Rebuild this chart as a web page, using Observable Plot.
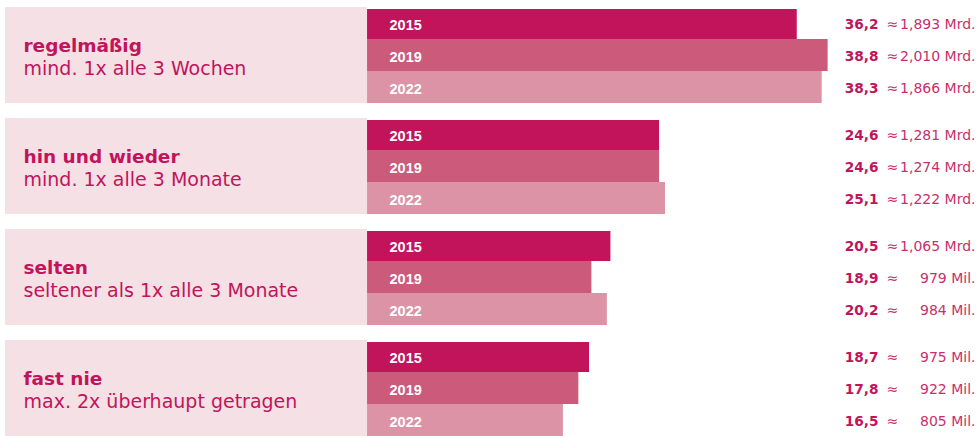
<!DOCTYPE html>
<html>
<head>
<meta charset="utf-8">
<script src="https://cdn.jsdelivr.net/npm/d3@7"></script>
<script src="https://cdn.jsdelivr.net/npm/@observablehq/plot@0.6"></script>
<style>
  html, body { margin: 0; padding: 0; background: #ffffff; }
  #chart svg { display: block; }
</style>
</head>
<body>
<div id="chart"></div>
<script>
const categories = ["regelmäßig", "hin und wieder", "selten", "fast nie"];
const subtitles = ["mind. 1x alle 3 Wochen", "mind. 1x alle 3 Monate", "seltener als 1x alle 3 Monate", "max. 2x überhaupt getragen"];
const years = ["2015", "2019", "2022"];
const values = [
  [36.2, 38.8, 38.3],
  [24.6, 24.6, 25.1],
  [20.5, 18.9, 20.2],
  [18.7, 17.8, 16.5]
];
const amounts = [
  ["1,893 Mrd.", "2,010 Mrd.", "1,866 Mrd."],
  ["1,281 Mrd.", "1,274 Mrd.", "1,222 Mrd."],
  ["1,065 Mrd.", "979 Mil.", "984 Mil."],
  ["975 Mil.", "922 Mil.", "805 Mil."]
];
const barColors = ["#c1145a", "#cc5a7b", "#dc93a6"];

const rows = [];
categories.forEach((cat, i) => {
  years.forEach((year, j) => {
    rows.push({cat, sub: subtitles[i], year, value: values[i][j], amount: amounts[i][j]});
  });
});

const fmt = v => v.toFixed(1).replace(".", ",");
const textColor = "#c1145a";

const chart = Plot.plot({
  width: 976,
  height: 437,
  marginLeft: 5,
  marginRight: 0,
  marginTop: 6,
  marginBottom: 0,
  style: {fontFamily: "DejaVu Sans", background: "#ffffff"},
  facet: {data: rows, y: "cat"},
  fy: {domain: categories, paddingInner: 0.137, paddingOuter: 0, axis: null, label: null},
  x: {domain: [-30.5, 51.3], axis: null},
  y: {domain: years, padding: 0, axis: null},
  color: {domain: years, range: barColors},
  marks: [
    Plot.rectX([0], {x1: -30.5, x2: 0, fill: "#f5e0e6"}),
    Plot.barX(rows, {filter: d => d.year === "2015", x: "value", y: "year", fill: "year", insetTop: 2}),
    Plot.barX(rows, {filter: d => d.year !== "2015", x: "value", y: "year", fill: "year"}),
    Plot.text(rows, {filter: d => d.year === "2015", text: "cat", frameAnchor: "left", textAnchor: "start", dx: 18, dy: -9.5, fontSize: 18.5, fontWeight: "bold", fill: textColor}),
    Plot.text(rows, {filter: d => d.year === "2015", text: "sub", frameAnchor: "left", textAnchor: "start", dx: 18, dy: 13, fontSize: 19, fill: textColor}),
    Plot.text(rows, {x: 0, y: "year", text: "year", textAnchor: "start", dx: 22, dy: 1.5, fontSize: 14.5, fontWeight: "bold", fontFamily: "Liberation Sans", fill: "#ffffff"}),
    Plot.text(rows, {y: "year", text: d => fmt(d.value), frameAnchor: "right", textAnchor: "end", dx: -98, dy: 1, fontSize: 13.7, fontWeight: "bold", fill: textColor}),
    Plot.text(rows, {y: "year", text: d => "≈", frameAnchor: "right", textAnchor: "start", dx: -90, dy: 1, fontSize: 14, fill: "#c8306a"}),
    Plot.text(rows, {y: "year", text: "amount", frameAnchor: "right", textAnchor: "end", dx: -1, dy: 1, fontSize: 14, fill: "#c8306a"})
  ]
});

document.getElementById("chart").appendChild(chart);
</script>
</body>
</html>
